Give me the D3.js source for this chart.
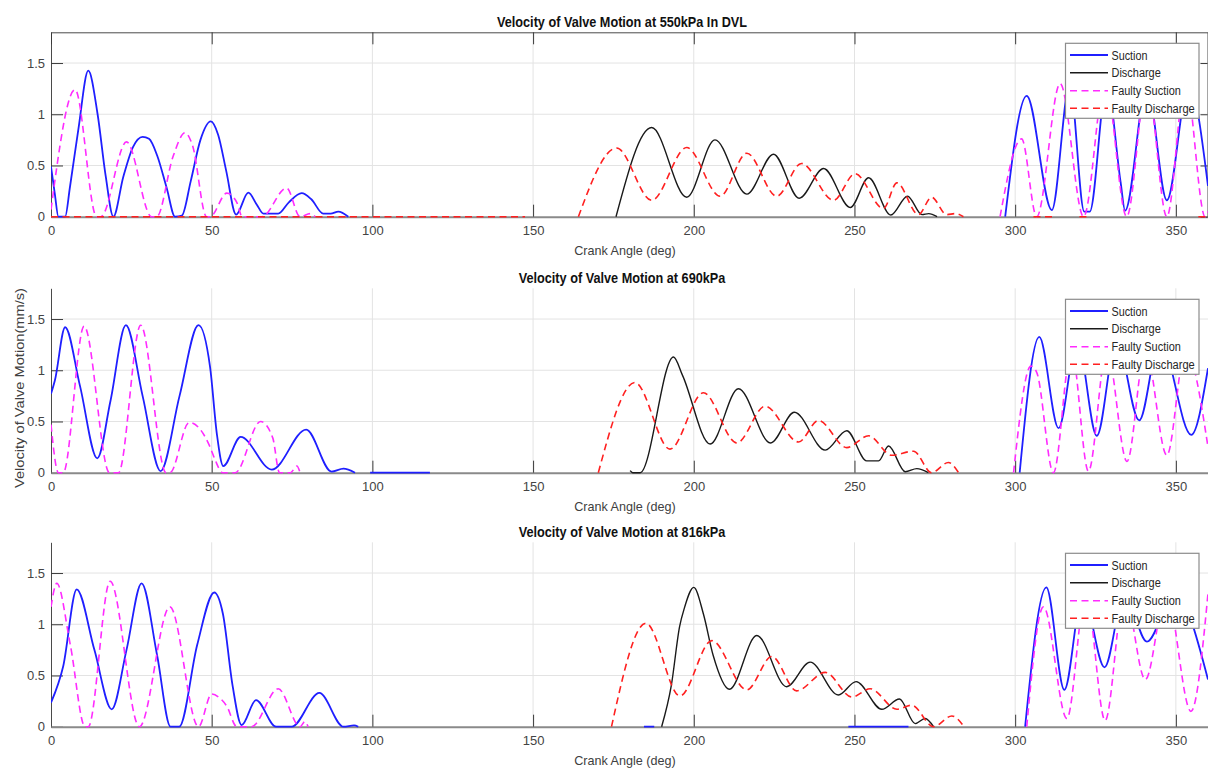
<!DOCTYPE html>
<html><head><meta charset="utf-8">
<script src="https://cdn.jsdelivr.net/npm/d3@7"></script>
<style>
body{margin:0;background:#fff}
svg{display:block}
text{font-family:"Liberation Sans",Arial,sans-serif}
</style>
</head><body>
<svg id="c" width="1208" height="769"></svg>
<script>
// ---------------- DATA ----------------
const xTicks = [0, 50, 100, 150, 200, 250, 300, 350];
const yTicks = [0, 0.5, 1, 1.5];
const yTickLabels = ["0", "0.5", "1", "1.5"];
const panelTitles = ["Velocity of Valve Motion at 550kPa In DVL", "Velocity of Valve Motion at 690kPa", "Velocity of Valve Motion at 816kPa"];
const seriesNames = ["Suction", "Discharge", "Faulty Suction", "Faulty Discharge"];
const xLabel = "Crank Angle (deg)";
const yLabel = "Velocity of Valve Motion(mm/s)";

// 550 kPa (in DVL)
const suction550 = [[0,0.49],[1.2,0.22],[2.3,0],[4.4,0],[5.9,0.29],[8.5,0.85],[11.6,1.425],[14.5,1.0],[17,0.4],[19.4,0],[22.5,0.39],[25.5,0.68],[28.5,0.78],[30.5,0.76],[33,0.6],[36,0.28],[38.6,0],[40.7,0.01],[43.5,0.35],[46.5,0.75],[49.7,0.93],[52,0.8],[54.5,0.45],[57.6,0.02],[61.4,0.235],[64,0.12],[66.1,0.03],[70.7,0.03],[74,0.14],[78,0.23],[81,0.17],[84.7,0.03],[87,0.03],[89.4,0.05],[92.5,0],
  null,[296.9,0],[303.6,1.18],[311.4,0.065],[317,1.3],[321.5,0.05],[323.2,0.05],[328.5,1.3],[332.8,0.34],[334.2,0.06],[341,1.28],[347.2,0.16],[354,1.3],[360,0.3]];
const discharge550 = [[175.8,0],[186.9,0.87],[197.8,0.19],[206.6,0.75],[216.5,0.22],[224.8,0.61],[232.8,0.18],[240.4,0.47],[248.7,0.09],[254.4,0.38],[261.3,0.016],[266.5,0.2],[271,0.02],[273.1,0.03],[275.7,0]];
const faultySuction550 = [[0,0.07],[7.5,1.24],[14.2,0],[15.5,0],[23.5,0.73],[31.3,0],[32.9,0],[38,0.59],[41.7,0.82],[44,0.7],[48.4,0],[49.5,0],[54.7,0.23],[57.8,0.14],[59.5,0],[65.6,0],[73.3,0.28],[77.5,0],[80.6,0.03],[82.2,0],
  null,[295.3,0],[302,0.76],[306.7,0],[314,1.30],[321.3,0],[328,1.32],[334.7,0],[341,1.32],[347.2,0],[353,1.32],[359.1,0],[360,0.05]];
const faultyDischarge550 = [[0,0],[147.5,0],null,[164.1,0],[176,0.67],[186.9,0.16],[197.8,0.675],[208.2,0.2],[216.5,0.62],[225.8,0.2],[233.5,0.52],[243.5,0.16],[250.2,0.42],[259,0.08],[263.2,0.33],[269.9,0.02],[274,0.19],[278.7,0.02],[281.3,0.03],[283.9,0],
  null,[305.7,0],[312,0],null,[320,0],[323,0],null,[357,0],[360,0]];

// 690 kPa
const suction690 = [[0,0.77],[1.2,0.9],[4.4,1.42],[9,0.85],[14.4,0.14],[18.5,0.7],[23.3,1.44],[28.5,0.75],[34.1,0.016],[40,0.75],[45.9,1.44],[49.5,1.03],[51.6,0.38],[53.6,0.065],[59,0.35],[68.7,0.03],[79.4,0.42],[87.3,0.01],[91,0.04],[94.6,0],
  null,[99.3,0],[117.9,0],
  null,[301.4,0],[307.5,1.325],[313.5,0.435],[319.3,1.3],[325.4,0.36],[331.5,1.3],[338.6,0.51],[345,1.3],[354.8,0.37],[360,1.02]];
const discharge690 = [[180.2,0.02],[181,0],[183.3,0],[193.7,1.13],[196.5,0.95],[205.1,0.28],[213.9,0.82],[223.9,0.29],[231.3,0.59],[240.9,0.22],[247.6,0.41],[253.8,0.115],[257.5,0.115],[260.6,0.26],[265.8,0.01],[269.4,0.04],[273,0]];
const faultySuction690 = [[0,0.47],[2.3,0],[3.8,0],[10.3,1.43],[18.2,0],[21,0],[27.9,1.44],[35.8,0],[37,0],[43,0.49],[46.5,0.42],[49.5,0.25],[51,0.13],[53.4,0],[57.3,0],[65.2,0.5],[69,0.34],[71.1,0],[74.5,0],[76.5,0.065],[77.5,0],
  null,[299.5,0],[304.9,1.04],[306.7,0.98],[311.9,0],[317.5,1.2],[322.8,0.015],[328.5,1.2],[334.8,0.11],[340.5,1.2],[347.2,0.17],[353,1.2],[360,0.25]];
const faultyDischarge690 = [[170.3,0],[181.7,0.88],[192.6,0.23],[203,0.78],[213.4,0.29],[222.2,0.65],[232.6,0.30],[238.8,0.51],[247.6,0.245],[254.4,0.36],[261.6,0.17],[268.4,0.21],[274,0],[279.2,0.1],[282.4,0]];

// 816 kPa
const suction816 = [[0,0.235],[3.8,0.59],[8,1.34],[13.5,0.75],[18.9,0.17],[23.5,0.75],[28.2,1.40],[33,0.7],[37.2,0],[39.9,0],[45.5,0.8],[50.8,1.31],[53.5,1.1],[56.5,0.4],[59.3,0.016],[63.8,0.26],[70,0],[74.9,0],[83.5,0.33],[91,0],[94.3,0.013],[95.6,0],
  null,[184.5,0],[187.7,0],null,[248.1,0],[266.8,0],
  null,[303.1,0],[309.7,1.36],[315.3,0.36],[321,1.3],[327.8,0.58],[334,1.3],[341,0.83],[349.5,1.3],[360,0.46]];
const discharge816 = [[190,0],[193,0.4],[195.6,0.98],[197,1.15],[200,1.36],[203,1.1],[206,0.7],[211.1,0.365],[219.6,0.89],[228.9,0.39],[236.2,0.63],[245,0.31],[250.5,0.44],[258.5,0.17],[264,0.27],[268.9,0.03],[272,0.08],[274.6,0]];
const faultySuction816 = [[0,1.17],[1.8,1.40],[6,0.8],[10.6,0],[11.6,0],[18.4,1.42],[27.5,0],[37,1.17],[45.9,0],[50,0.32],[52.5,0.28],[54.7,0.2],[57.8,0],[62.4,0],[70.7,0.37],[77.5,0],[79,0.05],[80,0],
  null,[303.6,0],[308.8,1.17],[316.1,0.08],[322,1.3],[328,0.06],[334,1.3],[340.5,0.46],[347,1.3],[354.7,0.15],[360,1.3]];
const faultyDischarge816 = [[174.4,0],[185.1,1.01],[195.7,0.30],[205.6,0.84],[216.5,0.36],[224.3,0.685],[232,0.35],[240.9,0.53],[249.2,0.29],[254.9,0.37],[263.2,0.17],[267.8,0.21],[274.6,0],[280.3,0.105],[284.1,0]];

const panelSeries = [
  [suction550, discharge550, faultySuction550, faultyDischarge550],
  [suction690, discharge690, faultySuction690, faultyDischarge690],
  [suction816, discharge816, faultySuction816, faultyDischarge816]
];

// ---------------- LAYOUT / STYLE ----------------
const svg = d3.select("#c");
const X0 = 51, X1 = 1208, PH = 184.4;
const tops = [32.3, 288.3, 542.3];
const styles = [
  {color:"#1f1fff", width:1.8, dash:null},
  {color:"#1a1a1a", width:1.4, dash:null},
  {color:"#ff2bff", width:1.6, dash:"7,4.5"},
  {color:"#ff2020", width:1.6, dash:"7,4.5"}
];
const legendTextW = [36, 49.3, 69.3, 83.3];
const titleW = [250, 206.7, 206.7];
const x = d3.scaleLinear().domain([0, 360]).range([X0, X1]);

const defs = svg.append("defs");

tops.forEach((top, p) => {
  const bottom = top + PH;
  const y = d3.scaleLinear().domain([0, 1.8]).range([bottom, top]);
  const g = svg.append("g");

  // grid
  g.append("g").selectAll("line").data(xTicks.filter(t => t > 0)).join("line")
    .attr("x1", d => x(d)).attr("x2", d => x(d)).attr("y1", top).attr("y2", bottom)
    .attr("stroke", "#e3e3e3").attr("stroke-width", 1);
  g.append("g").selectAll("line").data(yTicks.filter(t => t > 0)).join("line")
    .attr("x1", X0).attr("x2", X1).attr("y1", d => y(d)).attr("y2", d => y(d))
    .attr("stroke", "#e3e3e3").attr("stroke-width", 1);

  // axes
  const ax = d3.axisLeft(y).tickValues(yTicks).tickFormat((d, i) => yTickLabels[i])
    .tickSizeInner(-12).tickSizeOuter(0).tickPadding(6);
  const gy = g.append("g").attr("transform", `translate(${X0},0)`).call(ax);
  gy.select(".domain").attr("stroke", "#4a4a4a").attr("stroke-width", 1);
  gy.selectAll(".tick line").attr("stroke", "#3a3a3a");
  gy.selectAll(".tick text").attr("font-size", 13).attr("fill", "#444").attr("font-family", "Liberation Sans, Arial, sans-serif");

  const bx = d3.axisBottom(x).tickValues(xTicks).tickFormat(d3.format("d"))
    .tickSizeInner(-12).tickSizeOuter(0).tickPadding(9);
  const gx = g.append("g").attr("transform", `translate(0,${bottom})`).call(bx);
  gx.select(".domain").attr("stroke", "#8a8a8a").attr("stroke-width", 2);
  gx.selectAll(".tick line").attr("stroke", "#3a3a3a");
  gx.selectAll(".tick").filter(d => d === 0).select("line").remove();
  gx.selectAll(".tick text").attr("font-size", 13).attr("fill", "#444").attr("font-family", "Liberation Sans, Arial, sans-serif");

  if (p === 0) {
    // top and right frame on first panel
    const tx = d3.axisTop(x).tickValues(xTicks).tickFormat("").tickSizeInner(-12).tickSizeOuter(0);
    const gt = g.append("g").attr("transform", `translate(0,${top})`).call(tx);
    gt.select(".domain").attr("stroke", "#4a4a4a");
    gt.selectAll(".tick line").attr("stroke", "#3a3a3a");
    const ry = d3.axisRight(y).tickValues(yTicks).tickFormat("").tickSizeInner(-7).tickSizeOuter(0);
    const gr = g.append("g").attr("transform", `translate(${X1 - 0.5},0)`).call(ry);
    gr.select(".domain").attr("stroke", "#4a4a4a");
    gr.selectAll(".tick line").attr("stroke", "#3a3a3a");
  }

  // clip
  const cid = "clip" + p;
  defs.append("clipPath").attr("id", cid).append("rect")
    .attr("x", X0).attr("y", top - 2).attr("width", X1 - X0).attr("height", PH + 4);

  const line = d3.line().defined(d => d !== null)
    .x(d => x(d[0])).y(d => y(d[1])).curve(d3.curveMonotoneX);

  const lg = g.append("g").attr("clip-path", `url(#${cid})`);
  panelSeries[p].forEach((s, i) => {
    const st = styles[i];
    lg.append("path").datum(s).attr("d", line)
      .attr("fill", "none").attr("stroke", st.color).attr("stroke-width", st.width)
      .attr("stroke-dasharray", st.dash).attr("stroke-linejoin", "round");
  });

  // title
  const tw = titleW[p];
  g.append("text").text(panelTitles[p])
    .attr("x", 622 - tw / 2).attr("y", top - 5.5)
    .attr("font-size", 14).attr("font-weight", "bold").attr("fill", "#111")
    .attr("textLength", tw).attr("lengthAdjust", "spacingAndGlyphs");

  // x label
  g.append("text").text(xLabel)
    .attr("x", 625 - 50.8).attr("y", bottom + 38.5)
    .attr("font-size", 13.5).attr("fill", "#404040")
    .attr("textLength", 101.6).attr("lengthAdjust", "spacingAndGlyphs");

  // legend
  const lx = 1065.5, ly = top + 11;
  const leg = g.append("g");
  leg.append("rect").attr("x", lx).attr("y", ly).attr("width", 133.5).attr("height", 75)
    .attr("fill", "#fff").attr("stroke", "#8c8c8c").attr("stroke-width", 1.2);
  const offs = [11.7, 29.4, 47.4, 65];
  seriesNames.forEach((n, i) => {
    const st = styles[i];
    const cy = ly + offs[i];
    leg.append("line").attr("x1", 1070).attr("x2", 1108).attr("y1", cy).attr("y2", cy)
      .attr("stroke", st.color).attr("stroke-width", st.width).attr("stroke-dasharray", st.dash);
    leg.append("text").text(n).attr("x", 1111.5).attr("y", cy + 4.5)
      .attr("font-size", 12.5).attr("fill", "#262626")
      .attr("textLength", legendTextW[i]).attr("lengthAdjust", "spacingAndGlyphs");
  });
});

// y label
svg.append("text").text(yLabel)
  .attr("transform", "translate(24,488) rotate(-90)")
  .attr("x", 0).attr("y", 0)
  .attr("font-size", 13.5).attr("fill", "#404040")
  .attr("textLength", 200).attr("lengthAdjust", "spacingAndGlyphs");
</script>
</body></html>
